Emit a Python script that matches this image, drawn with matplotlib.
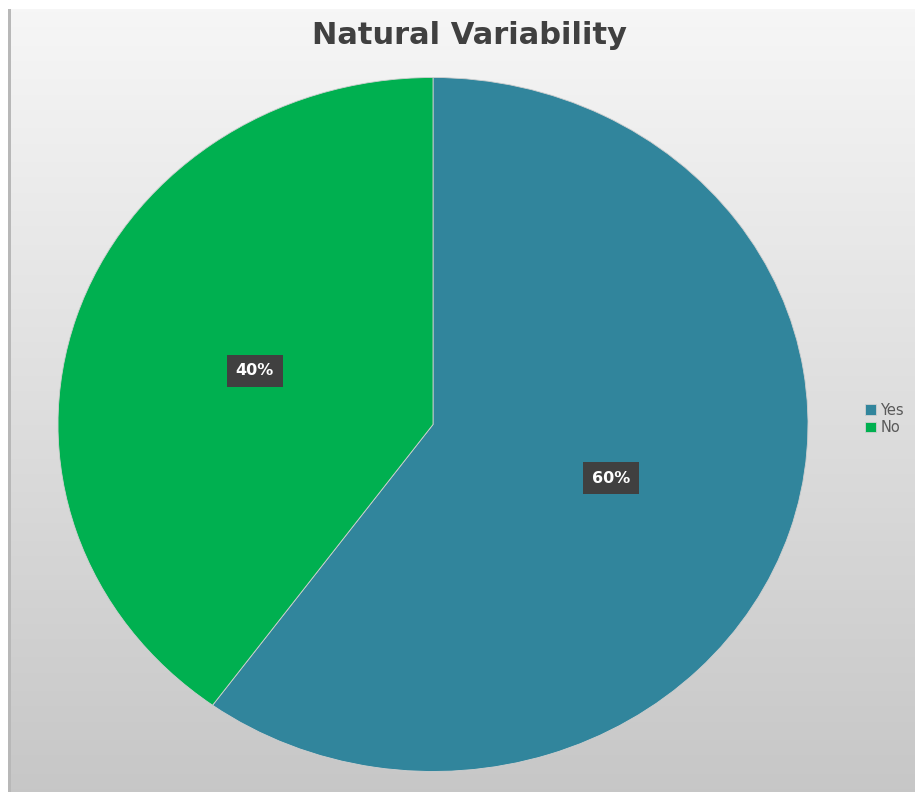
import numpy as np
import matplotlib.pyplot as plt
from matplotlib.patches import Rectangle

# Données du graphique
labels = ['Yes', 'No']
shares = [60, 40]
colors = ['#31859C', '#00B050']

fig = plt.figure(figsize=(9.15, 7.92), dpi=100)
fig.patch.set_facecolor('white')

# Fond dégradé gris clair -> gris
bg = fig.add_axes([10 / 915, 0, 1 - 10 / 915, 1 - 9 / 792])
grad = np.linspace(0, 1, 256).reshape(-1, 1)
top = np.array([0.965, 0.965, 0.965])
bottom = np.array([0.78, 0.78, 0.78])
img = top + grad[..., None] * (bottom - top)
bg.imshow(img, aspect='auto', extent=[0, 1, 0, 1], origin='upper')
bg.set_xlim(0, 1)
bg.set_ylim(0, 1)
bg.axis('off')
fig.patches.append(Rectangle((8 / 915, 0), 3 / 915, 1 - 9 / 792, transform=fig.transFigure,
                             facecolor='#b8b8b8', edgecolor='none', zorder=0))

# Camembert
ax = fig.add_axes([58 / 915, 20.5 / 792, 750 / 915, 694 / 792])
wedges, texts, autotexts = ax.pie(
    shares, colors=colors, startangle=90, counterclock=False,
    autopct='%1.0f%%', pctdistance=0.5, radius=1,
    wedgeprops=dict(linewidth=0.6, edgecolor='#d0d0d0'),
    textprops=dict(color='white', fontsize=11.5, fontweight='bold'))
for t in autotexts:
    t.set_bbox(dict(boxstyle='square,pad=0.55', facecolor='#404040', edgecolor='none'))
ax.set_aspect('auto')
ax.set_xlim(-1, 1)
ax.set_ylim(-1, 1)
ax.axis('off')

fig.text(470 / 915, 1 - 35 / 792, 'Natural Variability', ha='center', va='center',
         fontsize=22, fontweight='bold', color='#404040')

fig.legend(wedges, labels, loc='center left', bbox_to_anchor=(852 / 915, 1 - 419 / 792),
           frameon=False, fontsize=10.5, handlelength=0.75, handleheight=0.75,
           handletextpad=0.3, labelspacing=0.15, labelcolor='#595959')

fig.savefig('out.png', dpi=100)
